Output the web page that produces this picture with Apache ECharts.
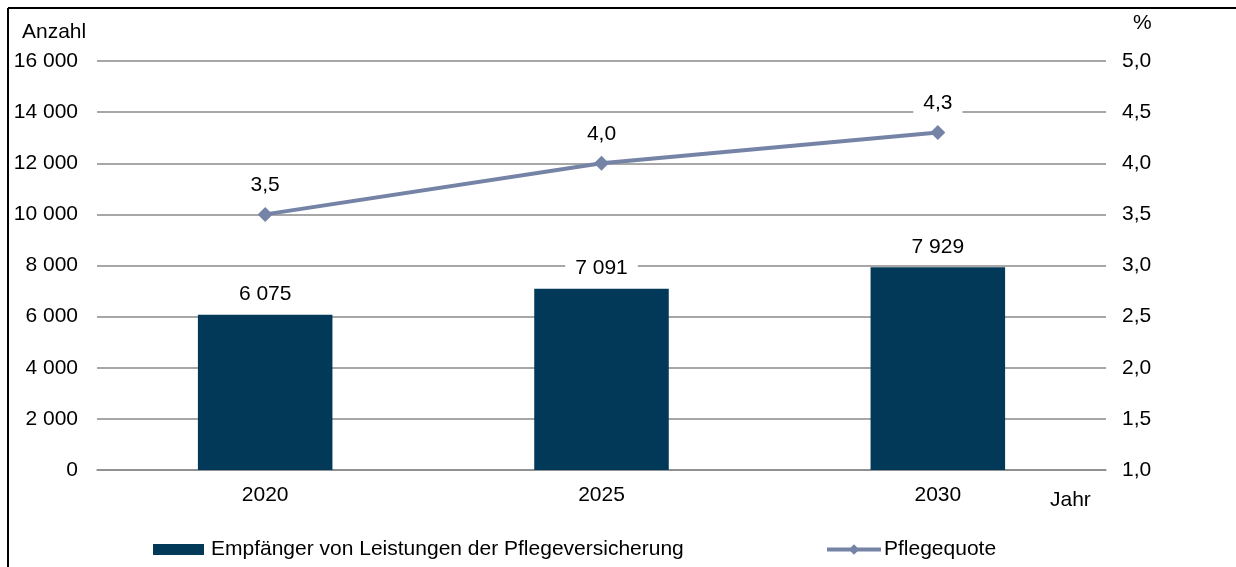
<!DOCTYPE html>
<html><head><meta charset="utf-8">
<script src="https://cdn.jsdelivr.net/npm/echarts@6/dist/echarts.min.js"></script>
<style>html,body{margin:0;padding:0;background:#fff}#c{width:1236px;height:567px}</style>
</head><body><div id="c"></div>
<script>
const categories = ['2020', '2025', '2030'];
const empfaenger = [6075, 7091, 7929];
const pflegequote = [3.5, 4.0, 4.3];
const leftTicks = [0, 16000, 2000];
const rightTicks = [1, 5, 0.5];
const barName = 'Empfänger von Leistungen der Pflegeversicherung';
const lineName = 'Pflegequote';

const font = 'Liberation Sans, Arial, sans-serif';
const fs = 21;
const fmtThousand = v => String(Math.round(v)).replace(/\B(?=(\d{3})+(?!\d))/g, ' ');
const fmtDec = v => v.toFixed(1).replace('.', ',');

const chart = echarts.init(document.getElementById('c'));
chart.setOption({
  animation: false,
  textStyle: {fontFamily: font, color: '#000'},
  grid: {left: 97, right: 130, top: 61, bottom: 97},
  graphic: [
    {type: 'line', shape: {x1: 8, y1: 8, x2: 1236, y2: 8}, style: {stroke: '#000', lineWidth: 2}},
    {type: 'line', shape: {x1: 8, y1: 8, x2: 8, y2: 567}, style: {stroke: '#000', lineWidth: 2}},
    {type: 'text', left: 22, top: 22, style: {text: 'Anzahl', font: fs + 'px ' + font, fill: '#000'}},
    {type: 'text', left: 1133, top: 13, style: {text: '%', font: fs + 'px ' + font, fill: '#000'}},
    {type: 'text', left: 1050, top: 490, style: {text: 'Jahr', font: fs + 'px ' + font, fill: '#000'}}
  ],
  legend: [
    {left: 153, top: 539, padding: 0, itemWidth: 51, itemHeight: 11, itemGap: 0,
     textStyle: {fontSize: fs, fontFamily: font, color: '#000', padding: [0, 0, 0, 2]},
     data: [{name: barName, icon: 'rect'}]},
    {left: 825, top: 539, padding: 0, itemWidth: 54, itemHeight: 13,
     lineStyle: {width: 4},
     textStyle: {fontSize: fs, fontFamily: font, color: '#000', padding: [0, 0, 0, -2]},
     data: [lineName]}
  ],
  xAxis: {
    type: 'category', data: categories,
    axisLine: {show: true, lineStyle: {color: '#8a8a8a', width: 1.5}},
    axisTick: {show: false},
    axisLabel: {fontSize: fs, color: '#000', margin: 15, fontFamily: font}
  },
  yAxis: [
    {type: 'value', min: leftTicks[0], max: leftTicks[1], interval: leftTicks[2],
     axisLine: {show: false}, axisTick: {show: false},
     splitLine: {lineStyle: {color: '#8a8a8a', width: 1.5}},
     axisLabel: {fontSize: fs, color: '#000', margin: 19, fontFamily: font, formatter: fmtThousand}},
    {type: 'value', min: rightTicks[0], max: rightTicks[1], interval: rightTicks[2],
     axisLine: {show: false}, axisTick: {show: false}, splitLine: {show: false},
     axisLabel: {fontSize: fs, color: '#000', margin: 16, fontFamily: font, formatter: fmtDec}}
  ],
  series: [
    {name: barName, type: 'bar', data: empfaenger, barWidth: '40%', yAxisIndex: 0,
     itemStyle: {color: '#023858'},
     label: {show: true, position: 'top', distance: 9, fontSize: fs, color: '#000', fontFamily: font,
       backgroundColor: '#fff', padding: [1, 10], formatter: p => fmtThousand(p.value)}},
    {name: lineName, type: 'line', data: pflegequote, yAxisIndex: 1,
     symbol: 'diamond', symbolSize: 15,
     lineStyle: {color: '#7583a6', width: 4}, itemStyle: {color: '#7583a6'},
     label: {show: true, position: 'top', distance: 10, fontSize: fs, color: '#000', fontFamily: font,
       backgroundColor: '#fff', padding: [1, 10], formatter: p => fmtDec(p.value)}}
  ]
});
</script></body></html>
